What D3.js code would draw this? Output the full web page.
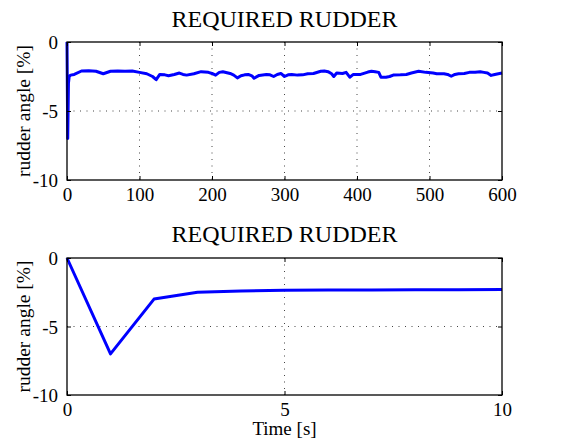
<!DOCTYPE html>
<html>
<head>
<meta charset="utf-8">
<script src="https://cdn.jsdelivr.net/npm/d3@7"></script>
<style>
html,body{margin:0;padding:0;background:#fff;}
svg{display:block;}
text{font-family:"Liberation Serif","Times New Roman",serif;fill:#000;}
</style>
</head>
<body>
<svg id="chart" width="563" height="441"></svg>
<script>
// ---- data ----
const titleText = "REQUIRED RUDDER";
const yLabelText = "rudder angle [%]";
const xLabelText = "Time [s]";

const topTime  = [0,1,2,3,5,10,20,30,40,50,60,70,80,90,100,110,118,123,128,135,140,148,155,160,165,175,185,195,200,205,210,215,225,230,235,240,245,250,255,258,265,275,280,285,290,295,300,305,310,318,325,332,340,350,355,360,365,368,372,380,385,390,395,405,415,420,425,430,433,440,445,450,460,468,475,485,495,505,510,520,525,530,535,540,548,555,563,570,575,580,585,590,595,600];
const topValue = [0,-7,-3,-2.5,-2.4,-2.35,-2.1,-2.08,-2.12,-2.3,-2.12,-2.1,-2.12,-2.1,-2.2,-2.3,-2.5,-2.73,-2.35,-2.38,-2.44,-2.35,-2.25,-2.35,-2.4,-2.3,-2.15,-2.2,-2.28,-2.4,-2.2,-2.15,-2.28,-2.4,-2.6,-2.45,-2.38,-2.35,-2.45,-2.63,-2.42,-2.35,-2.38,-2.5,-2.35,-2.28,-2.5,-2.38,-2.35,-2.4,-2.38,-2.3,-2.28,-2.12,-2.1,-2.15,-2.3,-2.5,-2.25,-2.28,-2.2,-2.55,-2.35,-2.35,-2.18,-2.12,-2.15,-2.2,-2.55,-2.55,-2.5,-2.4,-2.38,-2.35,-2.25,-2.12,-2.2,-2.25,-2.3,-2.3,-2.35,-2.48,-2.35,-2.3,-2.28,-2.2,-2.2,-2.15,-2.2,-2.25,-2.42,-2.35,-2.3,-2.25];

const bottomTime  = [0,1,2,3,4,5,6,7,8,9,10];
const bottomValue = [0,-7,-3,-2.5,-2.4,-2.35,-2.33,-2.33,-2.32,-2.32,-2.3];

const topXTicks = [0,100,200,300,400,500,600];
const bottomXTicks = [0,5,10];
const yTicks = [0,-5,-10];

// ---- layout ----
const svg = d3.select("#chart");
const L = 67, R = 502;
const fmt = d => String(d); // plain hyphen minus, as in the reference

function panel(opts){
  const g = svg.append("g");
  const x = d3.scaleLinear().domain(opts.xDomain).range([L, R]);
  const y = d3.scaleLinear().domain([-10, 0]).range([opts.bottom, opts.top]);

  // grid
  const gridX = opts.xTicks.slice(1, -1);
  const gridY = yTicks.slice(1, -1);
  g.selectAll(".gx").data(gridX).enter().append("line")
    .attr("x1", d => x(d)).attr("x2", d => x(d))
    .attr("y1", opts.top).attr("y2", opts.bottom)
    .attr("stroke", "#444").attr("stroke-width", 1)
    .attr("stroke-dasharray", "1,5.5");
  g.selectAll(".gy").data(gridY).enter().append("line")
    .attr("y1", d => y(d)).attr("y2", d => y(d))
    .attr("x1", L).attr("x2", R)
    .attr("stroke", "#444").attr("stroke-width", 1)
    .attr("stroke-dasharray", "1,5.5");

  // line
  const line = d3.line().x((d, i) => x(opts.t[i])).y(d => y(d));
  g.append("path").datum(opts.v)
    .attr("d", line)
    .attr("fill", "none").attr("stroke", "#0000ff")
    .attr("stroke-width", 3).attr("stroke-linejoin", "round");

  // axes (inward ticks)
  const ax = g.append("g").attr("transform", `translate(0,${opts.bottom})`)
    .call(d3.axisBottom(x).tickValues(opts.xTicks).tickSize(-4).tickFormat(fmt));
  const axTop = g.append("g").attr("transform", `translate(0,${opts.top})`)
    .call(d3.axisTop(x).tickValues(opts.xTicks).tickSize(-4).tickFormat(""));
  const ay = g.append("g").attr("transform", `translate(${L},0)`)
    .call(d3.axisLeft(y).tickValues(yTicks).tickSize(-4).tickPadding(9).tickFormat(fmt));
  const ayR = g.append("g").attr("transform", `translate(${R},0)`)
    .call(d3.axisRight(y).tickValues(yTicks).tickSize(-4).tickFormat(""));
  [ax, axTop, ay, ayR].forEach(a => {
    a.selectAll("path").remove();
    a.selectAll("line").attr("stroke", "#000").attr("stroke-width", 1);
    a.selectAll("text").style("font-family", '"Liberation Serif", serif').style("font-size", "19px").attr("fill", "#000");
  });
  ax.selectAll("text").attr("dy", null).attr("y", opts.xLabelBase - opts.bottom);
  ay.selectAll("text").attr("dy", "0.35em");

  // frame
  g.append("rect").attr("x", L).attr("y", opts.top)
    .attr("width", R - L).attr("height", opts.bottom - opts.top)
    .attr("fill", "none").attr("stroke", "#000").attr("stroke-width", 1.3);

  // title
  g.append("text").attr("x", (L + R) / 2).attr("y", opts.titleBase)
    .attr("text-anchor", "middle").style("font-size", "24px").text(titleText);
  // y label
  g.append("text")
    .attr("transform", `translate(30,${(opts.top + opts.bottom) / 2}) rotate(-90)`)
    .attr("text-anchor", "middle").style("font-size", "19.5px").text(yLabelText);
}

panel({xDomain:[0,600], t: topTime, v: topValue, xTicks: topXTicks,
       top: 42, bottom: 180, titleBase: 27, xLabelBase: 201});
panel({xDomain:[0,10], t: bottomTime, v: bottomValue, xTicks: bottomXTicks,
       top: 258, bottom: 395, titleBase: 242, xLabelBase: 416});

svg.append("text").attr("x", (L + R) / 2).attr("y", 435)
  .attr("text-anchor", "middle").style("font-size", "19px").text(xLabelText);
</script>
</body>
</html>
